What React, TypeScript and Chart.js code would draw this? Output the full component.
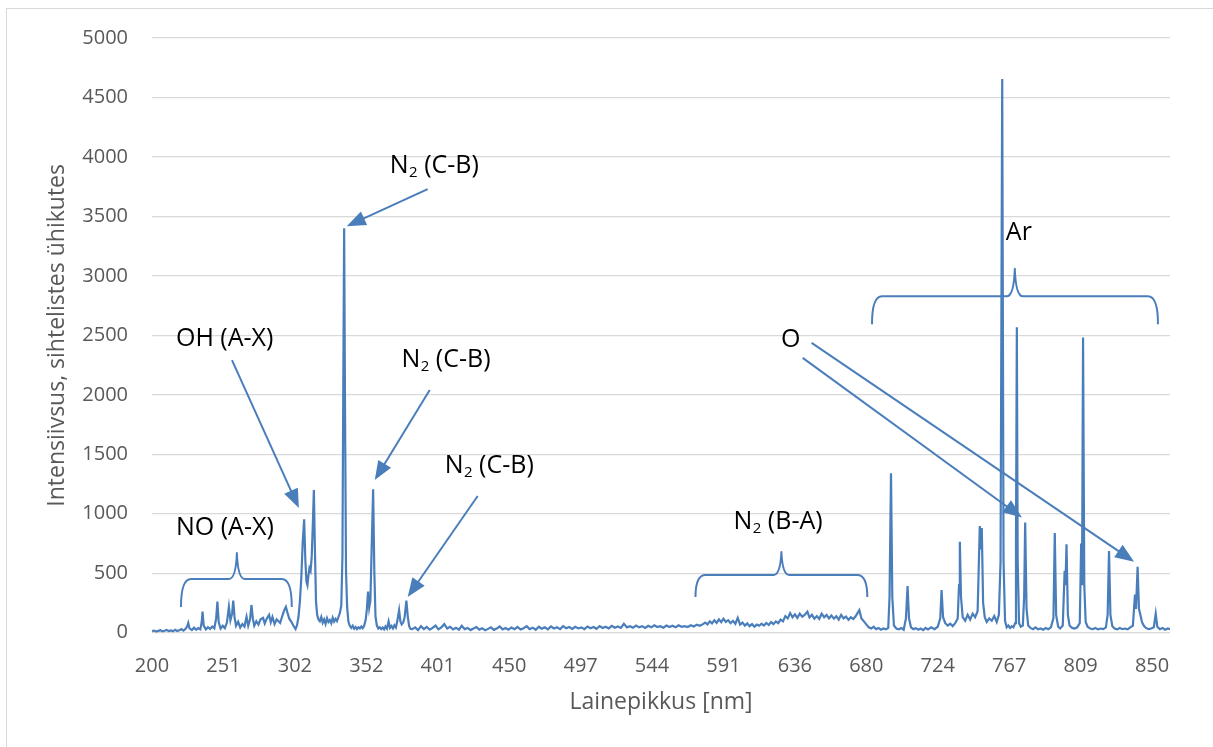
import React, { useEffect, useRef } from 'react';
import { Chart, registerables } from 'chart.js';

Chart.register(...registerables);

// x-axis tick labels (wavelength, nm) as printed on the category-like axis
const tickLabels = [200, 251, 302, 352, 401, 450, 497, 544, 591, 636, 680, 724, 767, 809, 850];
const lastWavelength = 860.3;

// Spectrum segments: [wavelength nm, intensity]
const uvBand: [number, number][] = [
  [200, 12], [201.5, 18], [203, 10], [204.5, 15], [206, 21], [207.5, 11], [209, 16], [210.5, 23], [212, 13],
  [213.5, 19], [215, 12], [216.5, 25], [218, 14], [219.5, 21], [221, 30], [222.5, 17], [224, 32], [225.2, 55],
  [225.9, 82], [226.8, 36], [228.5, 22], [230, 42], [231.5, 24], [233, 38], [234.5, 28], [235.5, 90], [236.1, 177],
  [236.9, 60], [238.5, 28], [240, 46], [241.5, 32], [243, 52], [244.5, 36], [245.8, 120], [246.7, 261], [247.6, 90],
  [249, 35], [250.5, 58], [252, 38], [253.5, 85], [254.9, 218], [256, 105], [257.2, 160], [258, 269], [259, 125],
  [260, 58], [261.5, 92], [263, 44], [264.5, 72], [266, 52], [267.5, 134], [268.7, 58], [270, 112], [271, 233],
  [272, 118], [273, 58], [274.5, 96], [276, 68], [277.5, 112], [279.3, 124], [280.5, 78], [282, 120], [283.6, 150],
  [284.8, 88], [286, 132], [287.5, 72], [289, 112], [290, 100], [291.5, 82], [293, 140], [294.5, 192], [295.6, 218],
  [296.8, 165], [298, 118], [299.5, 92], [301, 58], [302.5, 30],
];

const ohN2Band: [number, number][] = [
  [303.5, 62], [304.5, 130], [305.5, 260], [306.5, 460], [307.5, 760], [308.5, 953], [309.3, 620], [310.1, 430],
  [310.8, 400], [311.5, 480], [312.2, 543], [313, 520], [313.8, 640], [314.6, 920], [315.3, 1200], [316, 720],
  [316.8, 260], [317.6, 150], [318.5, 112], [319.5, 96], [320.5, 132], [321.5, 84], [322.5, 112], [323.5, 74],
  [324.5, 122], [325.5, 90], [326.5, 106], [327.5, 80], [328.5, 126], [329.5, 94], [330.5, 116], [331.5, 98],
  [332.5, 132], [333.5, 165], [334.5, 230], [335.3, 640], [335.9, 2100], [336.5, 3400], [337.1, 1900], [337.8, 520],
  [338.6, 210], [339.5, 92], [340.5, 56], [341.5, 40], [342.5, 58], [343.5, 34], [344.5, 48], [345.5, 30],
  [346.5, 46], [347.5, 36], [348.5, 52], [349.5, 38], [350.5, 58], [351.6, 110], [352.4, 200], [353.2, 345],
  [354, 210], [354.8, 270], [355.7, 720], [356.7, 1205], [357.5, 520], [358.3, 140], [359.2, 62], [360.2, 36],
  [361.2, 46], [362.2, 30], [363.2, 44], [364.2, 28], [365.2, 52], [366.2, 34], [367.3, 95], [368.3, 40],
  [369.3, 56], [370.3, 36], [371.3, 62], [372.3, 44], [373.3, 100], [374.5, 190], [375.4, 95], [376.3, 70],
  [377.3, 85], [378.3, 130], [379.5, 269], [380.5, 130], [381.4, 55], [382.4, 32],
];

const midBand: [number, number][] = [
  [383.5, 30], [385.5, 45], [387.5, 22], [389.5, 55], [391.5, 30], [393.5, 48], [395.5, 25], [397.5, 40],
  [399.5, 60], [401.5, 28], [403.5, 45], [405.5, 72], [407.5, 35], [409.5, 50], [411.5, 28], [413.5, 42],
  [415.5, 25], [417.5, 58], [419.5, 30], [421.5, 40], [423.5, 22], [425.5, 35], [427.5, 48], [429.5, 26],
  [431.5, 38], [433.5, 20], [435.5, 32], [437.5, 45], [439.5, 24], [441.5, 36], [443.5, 52], [445.5, 28],
  [447.5, 40], [449.5, 25], [451.5, 44], [453.5, 30], [455.5, 48], [457.5, 27], [459.5, 38], [461.5, 55],
  [463.5, 30], [465.5, 42], [467.5, 25], [469.5, 50], [471.5, 33], [473.5, 45], [475.5, 28], [477.5, 52],
  [479.5, 35], [481.5, 46], [483.5, 30], [485.5, 55], [487.5, 38], [489.5, 48], [491.5, 32], [493.5, 50],
  [495.5, 36], [497.5, 45], [499.5, 30], [501.5, 52], [503.5, 38], [505.5, 48], [507.5, 33], [509.5, 56],
  [511.5, 40], [513.5, 50], [515.5, 36], [517.5, 58], [519.5, 42], [521.5, 52], [523.5, 40], [525.5, 75],
  [527.5, 45], [529.5, 55], [531.5, 42], [533.5, 60], [535.5, 45], [537.5, 55], [539.5, 40], [541.5, 58],
  [543.5, 45], [545.5, 62], [547.5, 48], [549.5, 55], [551.5, 42], [553.5, 60], [555.5, 48], [557.5, 58],
  [559.5, 45], [561.5, 62], [563.5, 50],
];

const redBand: [number, number][] = [
  [565.5, 55], [567.5, 48], [569.5, 62], [571.5, 52], [573.5, 68], [575.5, 58], [577.5, 72], [579, 85],
  [580.5, 70], [582, 95], [583.5, 78], [585, 105], [586.5, 82], [588, 112], [589.5, 88], [591, 118],
  [592.5, 90], [594, 105], [595.5, 80], [597, 100], [598.5, 75], [600, 125], [601.5, 68], [603, 85],
  [604.5, 60], [606, 78], [607.5, 55], [609, 72], [610.5, 50], [612, 68], [613.5, 58], [615, 75],
  [616.5, 60], [618, 82], [619.5, 65], [621, 90], [622.5, 72], [624, 95], [625.5, 80], [627, 110],
  [628.5, 95], [630, 140], [631.5, 120], [633, 165], [634.5, 130], [636, 155], [637.5, 125], [639, 160],
  [640.5, 135], [642, 150], [643.7, 177], [645, 128], [646.5, 150], [648, 118], [649.5, 140], [651, 115],
  [652.5, 160], [654, 130], [655.5, 150], [657, 120], [658.5, 145], [660, 118], [661.5, 138], [663, 110],
  [664.5, 150], [666, 120], [667.5, 135], [669, 108], [670.5, 130], [672, 115], [673.5, 140], [675.7, 190],
  [677, 120], [678.5, 95], [680, 70], [681.5, 45], [683, 35], [684.5, 50], [686, 30], [687.5, 40],
  [689, 25], [690.5, 35], [692, 28], [693.5, 40],
];

const nirBand: [number, number][] = [
  [694.3, 300], [695.2, 1340], [696, 300], [697, 60], [698.5, 35], [700, 28], [701.5, 40], [703, 25],
  [704.4, 120], [705.4, 392], [706.3, 120], [707.5, 45], [709, 30], [710.5, 38], [712, 25], [713.5, 35],
  [715, 22], [716.5, 40], [718, 28], [720, 45], [722, 30], [724, 50], [725.5, 120], [726.3, 359],
  [727.2, 130], [728.5, 80], [730, 60], [731.5, 75], [733, 55], [734.5, 80], [736, 120], [736.8, 400],
  [737.3, 765], [738, 300], [739, 130], [740.5, 100], [742, 150], [743.5, 110], [745, 160], [746.5, 130],
  [748, 180], [749.3, 896], [749.9, 700], [750.5, 880], [751.3, 250], [752.3, 130], [753.5, 90], [755, 120],
  [756.5, 100], [758, 140], [759.5, 90], [760.8, 150], [761.8, 600], [762.8, 4655], [763.6, 600], [764.5, 100],
  [765.5, 45], [766.5, 60], [767.5, 40], [768.5, 55], [769.5, 45], [770.5, 80], [771, 800], [771.5, 2569],
  [772, 600], [772.8, 80], [773.8, 50], [775, 60], [775.8, 300], [776.4, 926], [777.2, 200], [778.2, 60],
  [779.5, 40], [781, 30], [782.5, 45], [784, 28], [785.5, 35], [787, 25], [788.5, 40], [790, 30],
  [791.5, 45], [793, 120], [793.8, 838], [794.6, 150], [795.8, 50], [797, 35], [798.5, 60], [799.6, 520],
  [800.1, 400], [800.7, 744], [801.5, 150], [802.5, 60], [804, 40], [805.5, 35], [807, 45], [808.5, 80],
  [809.3, 749], [809.8, 400], [810.4, 2481], [811.1, 400], [811.9, 90], [813, 50], [814.5, 35], [816, 30],
  [817.5, 40], [819, 28], [820.5, 35], [822, 30], [823.5, 45], [824.5, 150], [825.3, 686], [826.1, 150],
  [827.2, 55], [828.5, 35], [830, 28], [831.5, 40], [833, 30], [834.5, 35], [836, 28], [837.5, 45],
  [839, 60], [840.2, 320], [840.8, 200], [841.7, 555], [842.5, 200], [843.3, 150], [844.2, 90], [845.2, 60],
  [846.5, 40], [848, 30], [849.5, 35], [851, 45], [852.1, 160], [853, 50], [854.5, 30], [856, 40],
  [857.5, 25], [859, 35], [860.3, 30],
];

// Annotations (in data coordinates: wavelength nm, intensity)
const labelNotes = [
  { main: 'N', sub: '2', tail: ' (C-B)', nm: 368.1, value: 3866 },
  { main: 'OH (A-X)', sub: '', tail: '', nm: 217.1, value: 2409 },
  { main: 'N', sub: '2', tail: ' (C-B)', nm: 376.1, value: 2230 },
  { main: 'NO (A-X)', sub: '', tail: '', nm: 217.1, value: 821 },
  { main: 'N', sub: '2', tail: ' (C-B)', nm: 405.8, value: 1342 },
  { main: 'N', sub: '2', tail: ' (B-A)', nm: 597.3, value: 869 },
  { main: 'O', sub: '', tail: '', nm: 627.3, value: 2406 },
  { main: 'Ar', sub: '', tail: '', nm: 765.0, value: 3298 },
];

const arrowNotes = [
  { fromNm: 394.1, fromValue: 3729, toNm: 338.3, toValue: 3418 },
  { fromNm: 257.1, fromValue: 2292, toNm: 304.8, toValue: 1048 },
  { fromNm: 395.5, fromValue: 2040, toNm: 357.8, toValue: 1283 },
  { fromNm: 428.4, fromValue: 1149, toNm: 380.4, toValue: 300 },
  { fromNm: 646.3, fromValue: 2437, toNm: 839.7, toValue: 597 },
  { fromNm: 640.8, fromValue: 2311, toNm: 774.5, toValue: 969 },
];

const braceNotes = [
  { leftNm: 220.7, rightNm: 299.8, midNm: 260.6, lineValue: 451, endValue: 216, peakValue: 670 },
  { leftNm: 572.6, rightNm: 680.6, midNm: 627.5, lineValue: 485, endValue: 300, peakValue: 678 },
  { leftNm: 683.5, rightNm: 853.4, midNm: 770.3, lineValue: 2829, endValue: 2594, peakValue: 3059 },
];

const LINE = '#4A7EBB';
const GRID = '#D9D9D9';
const TEXT = '#595959';
const FONT = "'Open Sans', 'Noto Sans', sans-serif";

function nmToPos(nm: number): number {
  const t = tickLabels;
  for (let i = 0; i < t.length - 1; i++) {
    if (nm <= t[i + 1]) return i + (nm - t[i]) / (t[i + 1] - t[i]);
  }
  const n = t.length - 1;
  return n + (nm - t[n]) / (t[n] - t[n - 1]);
}

const annotationPlugin = {
  id: 'spectrumNotes',
  beforeDraw(chart: any) {
    const ctx = chart.ctx;
    ctx.save();
    ctx.strokeStyle = GRID;
    ctx.lineWidth = 1;
    ctx.strokeRect(6.5, 8.5, 1400, 900);
    ctx.restore();
  },
  afterDatasetsDraw(chart: any) {
    const ctx = chart.ctx;
    const xs = chart.scales.x;
    const ys = chart.scales.y;
    const px = (nm: number) => xs.getPixelForValue(nmToPos(nm));
    const py = (v: number) => ys.getPixelForValue(v);
    ctx.save();
    ctx.strokeStyle = LINE;
    ctx.fillStyle = LINE;
    ctx.lineWidth = 2;
    ctx.lineJoin = 'round';
    ctx.lineCap = 'butt';

    // braces
    braceNotes.forEach((b) => {
      const xL = px(b.leftNm), xR = px(b.rightNm), xM = px(b.midNm);
      const yL = py(b.lineValue), yE = py(b.endValue), yP = py(b.peakValue);
      ctx.beginPath();
      ctx.moveTo(xL, yE);
      ctx.quadraticCurveTo(xL, yL, xL + 10, yL);
      ctx.lineTo(xM - 8, yL);
      ctx.quadraticCurveTo(xM - 1, yL, xM, yP);
      ctx.quadraticCurveTo(xM + 1, yL, xM + 8, yL);
      ctx.lineTo(xR - 10, yL);
      ctx.quadraticCurveTo(xR, yL, xR, yE);
      ctx.stroke();
    });

    // arrows
    arrowNotes.forEach((a) => {
      const x1 = px(a.fromNm), y1 = py(a.fromValue), x2 = px(a.toNm), y2 = py(a.toValue);
      const ang = Math.atan2(y2 - y1, x2 - x1);
      const len = 19, hw = 7.5;
      const c = Math.cos(ang), s = Math.sin(ang);
      const bx = x2 - len * c, by = y2 - len * s;
      ctx.beginPath();
      ctx.moveTo(x1, y1);
      ctx.lineTo(bx + 2 * c, by + 2 * s);
      ctx.stroke();
      ctx.beginPath();
      ctx.moveTo(x2, y2);
      ctx.lineTo(bx + hw * s, by - hw * c);
      ctx.lineTo(bx - hw * s, by + hw * c);
      ctx.closePath();
      ctx.fill();
    });

    // labels
    ctx.fillStyle = '#000000';
    ctx.textBaseline = 'alphabetic';
    ctx.textAlign = 'left';
    labelNotes.forEach((l) => {
      let x = px(l.nm);
      const y = py(l.value);
      ctx.font = `25px ${FONT}`;
      ctx.fillText(l.main, x, y);
      x += ctx.measureText(l.main).width;
      if (l.sub) {
        ctx.font = `15px ${FONT}`;
        ctx.fillText(l.sub, x + 0.5, y + 4);
        x += ctx.measureText(l.sub).width + 0.5;
      }
      if (l.tail) {
        ctx.font = `25px ${FONT}`;
        ctx.fillText(l.tail, x, y);
      }
    });
    ctx.restore();
  },
};

export default function App() {
  const ref = useRef<HTMLCanvasElement>(null);
  useEffect(() => {
    document.body.style.margin = '0';
    const canvas = ref.current;
    if (!canvas) return;
    const points = [...uvBand, ...ohN2Band, ...midBand, ...redBand, ...nirBand].map(([w, v]) => ({
      x: nmToPos(w),
      y: v,
    }));
    const chart = new Chart(canvas, {
      type: 'line',
      data: {
        datasets: [
          {
            data: points,
            borderColor: LINE,
            borderWidth: 2.2,
            pointRadius: 0,
            tension: 0,
            fill: false,
          },
        ],
      },
      options: {
        animation: false,
        responsive: false,
        devicePixelRatio: 1,
        plugins: { legend: { display: false }, tooltip: { enabled: false } },
        layout: { padding: { left: 0, top: 38, right: 43, bottom: 0 } },
        scales: {
          x: {
            type: 'linear',
            min: 0,
            max: nmToPos(lastWavelength),
            afterBuildTicks: (s: any) => {
              s.ticks = tickLabels.map((_, i) => ({ value: i }));
            },
            afterFit: (s: any) => {
              s.height = 114.3;
            },
            ticks: {
              callback: (_v: any, i: number) => String(tickLabels[i]),
              font: { family: FONT, size: 20 },
              color: TEXT,
              padding: 14,
              maxRotation: 0,
              autoSkip: false,
            },
            grid: { display: false },
            border: { display: false },
            title: {
              display: true,
              text: 'Lainepikkus [nm]',
              font: { family: FONT, size: 23 },
              color: TEXT,
              padding: { top: 0, bottom: 30.7 },
            },
          },
          y: {
            min: 0,
            max: 5000,
            afterFit: (s: any) => {
              s.width = 152;
            },
            ticks: {
              stepSize: 500,
              callback: (v: any) => String(v),
              font: { family: FONT, size: 20 },
              color: TEXT,
              padding: 24,
            },
            grid: { color: GRID, lineWidth: 1.2, drawTicks: false },
            border: { display: false },
            title: {
              display: true,
              text: 'Intensiivsus, sihtelistes ühikutes',
              font: { family: FONT, size: 23 },
              color: TEXT,
              padding: { top: 43.2, bottom: 0 },
            },
          },
        },
      },
      plugins: [annotationPlugin],
    } as any);
    return () => chart.destroy();
  }, []);
  return <canvas ref={ref} width={1213} height={747} style={{ display: 'block' }} />;
}
